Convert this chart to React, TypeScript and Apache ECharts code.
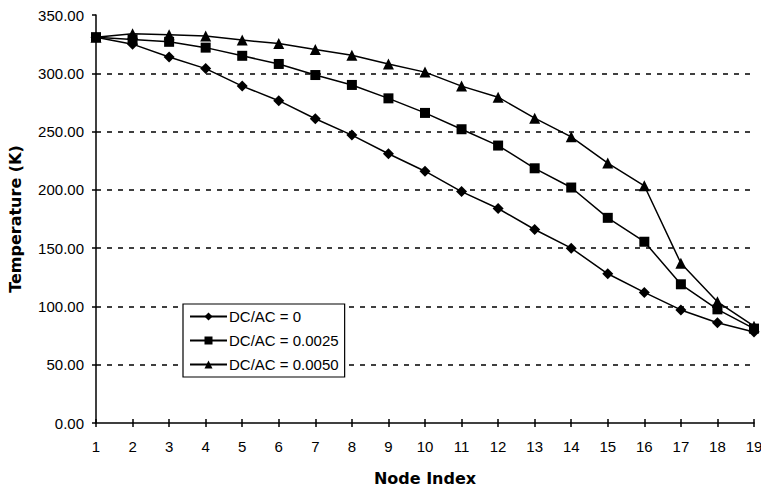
import React, { useEffect, useRef } from "react";
import * as echarts from "echarts";

const nodes = ["1","2","3","4","5","6","7","8","9","10","11","12","13","14","15","16","17","18","19"];
const dc0 = [331, 325, 314, 304, 289, 276.5, 261, 247, 231, 216, 198.5, 184, 166, 150, 128, 112, 97, 86, 78];
const dc0025 = [331, 329, 327, 322, 315, 308, 298.5, 290, 278.5, 266, 252, 238, 218.5, 202, 176, 155.5, 119, 97.5, 81];
const dc0050 = [331, 334, 333, 332, 328.5, 325.5, 320.5, 315.5, 308, 301, 289, 279.5, 261.5, 245.5, 223, 203.5, 137, 104, 83];
const seriesNames = ["DC/AC = 0", "DC/AC = 0.0025", "DC/AC = 0.0050"];
const yMin = 0;
const yMax = 350;
const yStep = 50;

const FONT = "'Liberation Sans', Arial, sans-serif";
const BOLD = "'DejaVu Sans', Verdana, sans-serif";

export default function App() {
  const ref = useRef<HTMLDivElement>(null);
  useEffect(() => {
    if (!ref.current) return;
    const chart = echarts.init(ref.current, null, { renderer: "svg" });
    const mk = (name: string, data: number[], symbol: string, size: number) => ({
      name,
      type: "line",
      data,
      symbol,
      symbolSize: size,
      showSymbol: true,
      lineStyle: { color: "#000", width: 1.5 },
      itemStyle: { color: "#000", borderWidth: 0 },
      emphasis: { disabled: true },
    });
    chart.setOption({
      animation: false,
      backgroundColor: "#fff",
      grid: { left: 96, right: 7, top: 15, bottom: 63, outerBoundsMode: "none", containLabel: false },
      legend: {
        orient: "vertical",
        left: 183,
        top: 304,
        data: seriesNames,
        backgroundColor: "#fff",
        borderColor: "#000",
        borderWidth: 1.2,
        borderRadius: 0,
        padding: [5, 6, 5, 6],
        itemGap: 9,
        itemWidth: 37,
        itemHeight: 10,
        textStyle: { color: "#000", fontFamily: FONT, fontSize: 15, padding: [0, 0, 0, -3] },
      },
      xAxis: [
        {
          type: "category",
          data: nodes,
          boundaryGap: false,
          name: "Node Index",
          nameLocation: "middle",
          nameGap: 47,
          nameTextStyle: { fontFamily: BOLD, fontWeight: "bold", fontSize: 16, color: "#000" },
          axisLine: { lineStyle: { color: "#000", width: 1.5 } },
          axisTick: { show: true, length: 4, lineStyle: { color: "#000", width: 1.5 } },
          axisLabel: { color: "#000", fontFamily: FONT, fontSize: 15, margin: 16 },
          splitLine: { show: false },
        },
        {
          type: "category",
          data: nodes,
          boundaryGap: false,
          position: "bottom",
          axisLine: { show: false },
          axisTick: { show: true, inside: true, length: 4, lineStyle: { color: "#000", width: 1.5 } },
          axisLabel: { show: false },
          splitLine: { show: false },
        },
      ],
      yAxis: {
        type: "value",
        min: yMin,
        max: yMax,
        interval: yStep,
        name: "Temperature (K)",
        nameLocation: "middle",
        nameGap: 73,
        nameTextStyle: { fontFamily: BOLD, fontWeight: "bold", fontSize: 16, color: "#000" },
        axisLine: { show: true, lineStyle: { color: "#000", width: 1.5 } },
        axisTick: { show: true, length: 4, lineStyle: { color: "#000", width: 1.5 } },
        axisLabel: {
          color: "#000",
          fontFamily: FONT,
          fontSize: 15,
          margin: 12,
          formatter: (v: number) => v.toFixed(2),
        },
        splitLine: {
          show: true,
          showMinLine: false,
          showMaxLine: false,
          lineStyle: { color: "#000", width: 1.5, type: [5, 6] },
        },
      },
      series: [
        mk(seriesNames[0], dc0, "diamond", 11),
        mk(seriesNames[1], dc0025, "rect", 10),
        mk(seriesNames[2], dc0050, "triangle", 11),
      ],
    });
    return () => chart.dispose();
  }, []);
  return (
    <div
      ref={ref}
      style={{ position: "absolute", left: 0, top: 0, width: 761, height: 486 }}
    />
  );
}
